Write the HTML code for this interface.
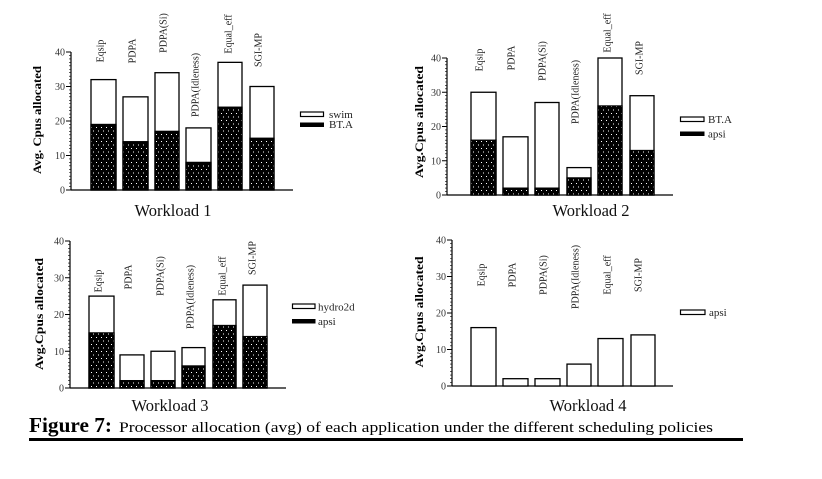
<!DOCTYPE html>
<html><head><meta charset="utf-8"><style>
html,body{margin:0;padding:0;background:#fff;}
svg{display:block;}
text{font-family:"Liberation Serif",serif;}
</style></head><body>
<svg width="822" height="479" viewBox="0 0 822 479" xmlns="http://www.w3.org/2000/svg">
<defs>
<pattern id="dots" width="5" height="7" patternUnits="userSpaceOnUse">
<rect width="5" height="7" fill="#000"/>
<rect x="1" y="1" width="1" height="1" fill="#fff"/>
<rect x="3" y="4.5" width="1" height="1" fill="#fff"/>
</pattern>
</defs>
<rect width="822" height="479" fill="#fff"/>

<g id="p1">
<!-- axis -->
<line x1="71" y1="52" x2="71" y2="190" stroke="#000" stroke-width="1.2"/>
<line x1="71" y1="190" x2="293" y2="190" stroke="#000" stroke-width="1.2"/>
<g stroke="#000" stroke-width="0.6">
<path d="M69 55.45h2M69 58.9h2M69 62.35h2M69 65.8h2M69 69.25h2M69 72.7h2M69 76.15h2M69 79.6h2M69 83.05h2M69 89.95h2M69 93.4h2M69 96.85h2M69 100.3h2M69 103.75h2M69 107.2h2M69 110.65h2M69 114.1h2M69 117.55h2M69 124.45h2M69 127.9h2M69 131.35h2M69 134.8h2M69 138.25h2M69 141.7h2M69 145.15h2M69 148.6h2M69 152.05h2M69 158.95h2M69 162.4h2M69 165.85h2M69 169.3h2M69 172.75h2M69 176.2h2M69 179.65h2M69 183.1h2M69 186.55h2"/>
</g>
<g stroke="#000" stroke-width="1"><path d="M66 52h5M66 86.5h5M66 121h5M66 155.5h5M66 190h5"/></g>
<g font-size="10" text-anchor="end" fill="#333">
<text x="65" y="55.5">40</text><text x="65" y="90">30</text><text x="65" y="124.5">20</text><text x="65" y="159">10</text><text x="65" y="193.5">0</text>
</g>
<text transform="translate(41,120) rotate(-90)" text-anchor="middle" font-size="12" font-weight="bold" textLength="108" lengthAdjust="spacingAndGlyphs">Avg. Cpus allocated</text>
<!-- bars: scale 3.45 -->
<g stroke="#000" stroke-width="1.3">
<rect x="91" y="79.6" width="25" height="110.4" fill="#fff"/><rect x="91" y="124.45" width="25" height="65.55" fill="url(#dots)"/>
<rect x="123" y="96.85" width="25" height="93.15" fill="#fff"/><rect x="123" y="141.7" width="25" height="48.3" fill="url(#dots)"/>
<rect x="155" y="72.7" width="24" height="117.3" fill="#fff"/><rect x="155" y="131.35" width="24" height="58.65" fill="url(#dots)"/>
<rect x="186" y="127.9" width="25" height="62.1" fill="#fff"/><rect x="186" y="162.4" width="25" height="27.6" fill="url(#dots)"/>
<rect x="218" y="62.35" width="24" height="127.65" fill="#fff"/><rect x="218" y="107.2" width="24" height="82.8" fill="url(#dots)"/>
<rect x="250" y="86.5" width="24" height="103.5" fill="#fff"/><rect x="250" y="138.25" width="24" height="51.75" fill="url(#dots)"/>
</g>
<g font-size="10" text-anchor="middle" fill="#222">
<text transform="translate(100,51) rotate(-90)" dy="3.5">Eqsip</text>
<text transform="translate(132,51) rotate(-90)" dy="3.5">PDPA</text>
<text transform="translate(163,33) rotate(-90)" dy="3.5">PDPA(Si)</text>
<text transform="translate(195,85) rotate(-90)" dy="3.5">PDPA(Idleness)</text>
<text transform="translate(228,34) rotate(-90)" dy="3.5">Equal_eff</text>
<text transform="translate(258,50) rotate(-90)" dy="3.5">SGI-MP</text>
</g>
<rect x="300.5" y="112" width="23" height="4.5" fill="#fff" stroke="#000" stroke-width="1.2"/>
<rect x="300" y="122.5" width="24" height="4.5" fill="#000"/>
<g font-size="11" fill="#222"><text x="329" y="118">swim</text><text x="329" y="128">BT.A</text></g>
<text x="173" y="216" font-size="16.5" text-anchor="middle" fill="#111">Workload 1</text>
</g>

<g id="p2">
<line x1="447" y1="58" x2="447" y2="195" stroke="#000" stroke-width="1.2"/>
<line x1="447" y1="195" x2="673" y2="195" stroke="#000" stroke-width="1.2"/>
<g stroke="#000" stroke-width="0.6">
<path d="M445 61.4h2M445 64.85h2M445 68.3h2M445 71.7h2M445 75.1h2M445 78.55h2M445 82h2M445 85.4h2M445 88.8h2M445 95.65h2M445 99.1h2M445 102.5h2M445 105.9h2M445 109.35h2M445 112.8h2M445 116.2h2M445 119.6h2M445 123.05h2M445 129.9h2M445 133.3h2M445 136.7h2M445 140.15h2M445 143.6h2M445 147h2M445 150.4h2M445 153.85h2M445 157.3h2M445 164.15h2M445 167.6h2M445 171h2M445 174.4h2M445 177.85h2M445 181.3h2M445 184.7h2M445 188.1h2M445 191.55h2"/>
</g>
<g stroke="#000" stroke-width="1"><path d="M442 58h5M442 92.25h5M442 126.5h5M442 160.75h5M442 195h5"/></g>
<g font-size="10" text-anchor="end" fill="#333">
<text x="441" y="61.5">40</text><text x="441" y="95.75">30</text><text x="441" y="130">20</text><text x="441" y="164.25">10</text><text x="441" y="198.5">0</text>
</g>
<text transform="translate(423,122) rotate(-90)" text-anchor="middle" font-size="12" font-weight="bold" textLength="112" lengthAdjust="spacingAndGlyphs">Avg.Cpus allocated</text>
<g stroke="#000" stroke-width="1.3">
<rect x="471" y="92.25" width="25" height="102.75" fill="#fff"/><rect x="471" y="140.2" width="25" height="54.8" fill="url(#dots)"/>
<rect x="503" y="136.8" width="25" height="58.2" fill="#fff"/><rect x="503" y="188.15" width="25" height="6.85" fill="url(#dots)"/>
<rect x="535" y="102.5" width="24" height="92.5" fill="#fff"/><rect x="535" y="188.15" width="24" height="6.85" fill="url(#dots)"/>
<rect x="567" y="167.6" width="24" height="27.4" fill="#fff"/><rect x="567" y="177.9" width="24" height="17.1" fill="url(#dots)"/>
<rect x="598" y="58" width="24" height="137" fill="#fff"/><rect x="598" y="105.95" width="24" height="89.05" fill="url(#dots)"/>
<rect x="630" y="95.7" width="24" height="99.3" fill="#fff"/><rect x="630" y="150.5" width="24" height="44.5" fill="url(#dots)"/>
</g>
<g font-size="10" text-anchor="middle" fill="#222">
<text transform="translate(479,60) rotate(-90)" dy="3.5">Eqsip</text>
<text transform="translate(511,58) rotate(-90)" dy="3.5">PDPA</text>
<text transform="translate(542,61) rotate(-90)" dy="3.5">PDPA(Si)</text>
<text transform="translate(575,92) rotate(-90)" dy="3.5">PDPA(Idleness)</text>
<text transform="translate(607,33) rotate(-90)" dy="3.5">Equal_eff</text>
<text transform="translate(639,58) rotate(-90)" dy="3.5">SGI-MP</text>
</g>
<rect x="680.5" y="117" width="23.5" height="4.5" fill="#fff" stroke="#000" stroke-width="1.2"/>
<rect x="680" y="131.5" width="24.5" height="4.5" fill="#000"/>
<g font-size="11" fill="#222"><text x="708" y="123">BT.A</text><text x="708" y="137.5">apsi</text></g>
<text x="591" y="216" font-size="16.5" text-anchor="middle" fill="#111">Workload 2</text>
</g>

<g id="p3">
<line x1="70" y1="241" x2="70" y2="388" stroke="#000" stroke-width="1.2"/>
<line x1="70" y1="388" x2="286" y2="388" stroke="#000" stroke-width="1.2"/>
<g stroke="#000" stroke-width="0.6">
<path d="M68 244.7h2M68 248.35h2M68 252h2M68 255.7h2M68 259.4h2M68 263.05h2M68 266.7h2M68 270.4h2M68 274.1h2M68 281.4h2M68 285.1h2M68 288.8h2M68 292.45h2M68 296.1h2M68 299.8h2M68 303.5h2M68 307.15h2M68 310.8h2M68 318.2h2M68 321.85h2M68 325.5h2M68 329.2h2M68 332.9h2M68 336.55h2M68 340.2h2M68 343.9h2M68 347.6h2M68 354.9h2M68 358.6h2M68 362.3h2M68 365.95h2M68 369.6h2M68 373.3h2M68 377h2M68 380.65h2M68 384.3h2"/>
</g>
<g stroke="#000" stroke-width="1"><path d="M65 241h5M65 277.75h5M65 314.5h5M65 351.25h5M65 388h5"/></g>
<g font-size="10" text-anchor="end" fill="#333">
<text x="64" y="244.5">40</text><text x="64" y="281.25">30</text><text x="64" y="318">20</text><text x="64" y="354.75">10</text><text x="64" y="391.5">0</text>
</g>
<text transform="translate(43,314) rotate(-90)" text-anchor="middle" font-size="12" font-weight="bold" textLength="112" lengthAdjust="spacingAndGlyphs">Avg.Cpus allocated</text>
<g stroke="#000" stroke-width="1.3">
<rect x="89" y="296.1" width="25" height="91.9" fill="#fff"/><rect x="89" y="332.9" width="25" height="55.1" fill="url(#dots)"/>
<rect x="120" y="354.9" width="24" height="33.1" fill="#fff"/><rect x="120" y="380.65" width="24" height="7.35" fill="url(#dots)"/>
<rect x="151" y="351.25" width="24" height="36.75" fill="#fff"/><rect x="151" y="380.65" width="24" height="7.35" fill="url(#dots)"/>
<rect x="182" y="347.6" width="23" height="40.4" fill="#fff"/><rect x="182" y="365.95" width="23" height="22.05" fill="url(#dots)"/>
<rect x="213" y="299.8" width="23" height="88.2" fill="#fff"/><rect x="213" y="325.5" width="23" height="62.5" fill="url(#dots)"/>
<rect x="243" y="285.1" width="24" height="102.9" fill="#fff"/><rect x="243" y="336.55" width="24" height="51.45" fill="url(#dots)"/>
</g>
<g font-size="10" text-anchor="middle" fill="#222">
<text transform="translate(98,281) rotate(-90)" dy="3.5">Eqsip</text>
<text transform="translate(128,277) rotate(-90)" dy="3.5">PDPA</text>
<text transform="translate(160,276) rotate(-90)" dy="3.5">PDPA(Si)</text>
<text transform="translate(190,297) rotate(-90)" dy="3.5">PDPA(Idleness)</text>
<text transform="translate(222,276) rotate(-90)" dy="3.5">Equal_eff</text>
<text transform="translate(252,258) rotate(-90)" dy="3.5">SGI-MP</text>
</g>
<rect x="292.5" y="304" width="22.5" height="4.5" fill="#fff" stroke="#000" stroke-width="1.2"/>
<rect x="292" y="319" width="23.5" height="4.5" fill="#000"/>
<g font-size="11" fill="#222"><text x="318" y="310.5">hydro2d</text><text x="318" y="325">apsi</text></g>
<text x="170" y="411" font-size="16.5" text-anchor="middle" fill="#111">Workload 3</text>
</g>

<g id="p4">
<line x1="452" y1="240" x2="452" y2="386" stroke="#000" stroke-width="1.2"/>
<line x1="452" y1="386" x2="673" y2="386" stroke="#000" stroke-width="1.2"/>
<g stroke="#000" stroke-width="0.6">
<path d="M450 243.65h2M450 247.3h2M450 250.95h2M450 254.6h2M450 258.25h2M450 261.9h2M450 265.55h2M450 269.2h2M450 272.85h2M450 280.15h2M450 283.8h2M450 287.45h2M450 291.1h2M450 294.75h2M450 298.4h2M450 302.05h2M450 305.7h2M450 309.35h2M450 316.65h2M450 320.3h2M450 323.95h2M450 327.6h2M450 331.25h2M450 334.9h2M450 338.55h2M450 342.2h2M450 345.85h2M450 353.15h2M450 356.8h2M450 360.45h2M450 364.1h2M450 367.75h2M450 371.4h2M450 375.05h2M450 378.7h2M450 382.35h2"/>
</g>
<g stroke="#000" stroke-width="1"><path d="M447 240h5M447 276.5h5M447 313h5M447 349.5h5M447 386h5"/></g>
<g font-size="10" text-anchor="end" fill="#333">
<text x="446" y="243.5">40</text><text x="446" y="280">30</text><text x="446" y="316.5">20</text><text x="446" y="353">10</text><text x="446" y="389.5">0</text>
</g>
<text transform="translate(423,312) rotate(-90)" text-anchor="middle" font-size="12" font-weight="bold" textLength="111" lengthAdjust="spacingAndGlyphs">Avg.Cpus allocated</text>
<g stroke="#000" stroke-width="1.3" fill="#fff">
<rect x="471" y="327.6" width="25" height="58.4"/>
<rect x="503" y="378.7" width="25" height="7.3"/>
<rect x="535" y="378.7" width="25" height="7.3"/>
<rect x="567" y="364.1" width="24" height="21.9"/>
<rect x="598" y="338.55" width="25" height="47.45"/>
<rect x="631" y="334.9" width="24" height="51.1"/>
</g>
<g font-size="10" text-anchor="middle" fill="#222">
<text transform="translate(481,275) rotate(-90)" dy="3.5">Eqsip</text>
<text transform="translate(512,275) rotate(-90)" dy="3.5">PDPA</text>
<text transform="translate(543,275) rotate(-90)" dy="3.5">PDPA(Si)</text>
<text transform="translate(575,277) rotate(-90)" dy="3.5">PDPA(Idleness)</text>
<text transform="translate(607,275) rotate(-90)" dy="3.5">Equal_eff</text>
<text transform="translate(638,275) rotate(-90)" dy="3.5">SGI-MP</text>
</g>
<rect x="680.5" y="310" width="24.5" height="4.5" fill="#fff" stroke="#000" stroke-width="1.2"/>
<g font-size="11" fill="#222"><text x="709" y="316">apsi</text></g>
<text x="588" y="411" font-size="16.5" text-anchor="middle" fill="#111">Workload 4</text>
</g>

<text x="29" y="432" font-size="21" font-weight="bold" fill="#000" textLength="83" lengthAdjust="spacingAndGlyphs">Figure 7:</text>
<text x="119" y="432" font-size="15" fill="#000" textLength="594" lengthAdjust="spacingAndGlyphs">Processor allocation (avg) of each application under the different scheduling policies</text>
<rect x="29" y="438" width="714" height="3" fill="#000"/>
</svg>
</body></html>
